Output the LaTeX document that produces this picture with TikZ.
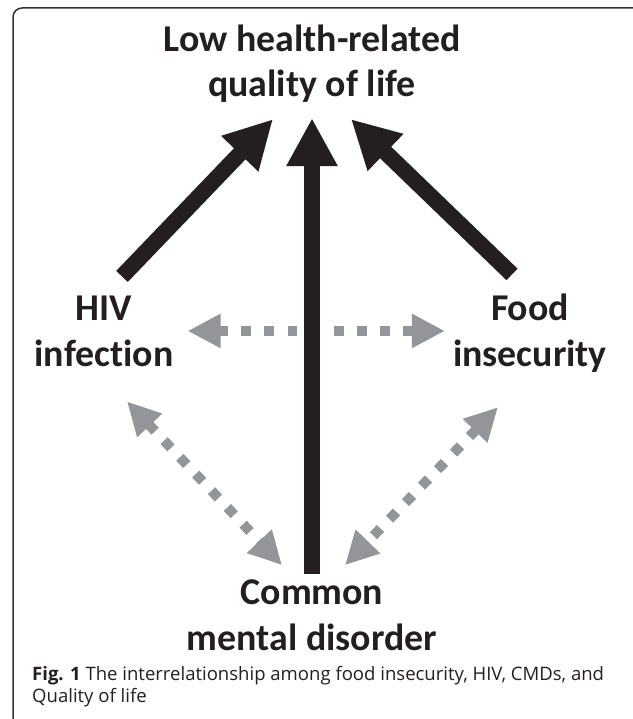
\documentclass[tikz,border=0pt]{standalone}
\usepackage{fontspec}
\setmainfont{Carlito}[Ligatures=NoCommon]
\newfontfamily\capfont{Open Sans}
\usetikzlibrary{arrows.meta}

\definecolor{inkblack}{HTML}{231F20}
\definecolor{linkgray}{HTML}{939598}

\tikzset{
  label/.style={font=\bfseries\fontsize{38}{46}\selectfont, text=inkblack, align=center, inner sep=0pt, anchor=base},
  bigarrow/.style={draw=inkblack, line width=16bp, -{Triangle[length=48bp, width=48bp]}, inkblack},
  dotarrow/.style={draw=linkgray, line width=10bp, dash pattern=on 10bp off 13bp, {Triangle[length=33bp, width=32bp]}-{Triangle[length=33bp, width=32bp]}, linkgray}
}

\begin{document}
\begin{tikzpicture}[x=1bp, y=-1bp]
  \useasboundingbox (0,0) rectangle (633,719);
  \clip (0,0) rectangle (633,719);

  % Draw the frame
  \draw[line width=1.5bp, draw=black!80, rounded corners=9bp] (13,740) -- (13,8) -- (660,8);

  % Place the four factors (anchor at the last line)
  \node[label] (qol) at (312,97) {Low health-related\\quality of life};
  \node[label] (hiv) at (104,366) {HIV\\infection};
  \node[label] (food) at (530,366) {Food\\insecurity};
  \node[label] (cmd) at (312,650) {Common\\mental disorder};

  % Draw the two-way links (gray)
  \draw[dotarrow, shorten <=14bp, shorten >=8bp] (hiv.east) -- (hiv.east -| food.west);
  \draw[dotarrow] ([shift={(23,35)}]hiv.south) -- ([shift={(-30,-14)}]cmd.north);
  \draw[dotarrow] ([shift={(-32,35)}]food.south) -- ([shift={(33,-14)}]cmd.north);

  % Draw the effects on quality of life (black)
  \draw[bigarrow] ([shift={(18,-19)}]hiv.north) -- ([shift={(-39,16)}]qol.south);
  \draw[bigarrow] ([shift={(-18,-19)}]food.north) -- ([shift={(39,16)}]qol.south);
  \draw[bigarrow, preaction={draw=white, line width=30bp, arrows=-}, shorten <=5bp, shorten >=15bp] (cmd.north) -- (qol.south);

  % Add the caption
  \node[font=\capfont\fontsize{18.6}{22}\selectfont, text=inkblack, align=left, inner sep=0pt, anchor=base west] (caption) at (32,702)
    {\textbf{Fig. 1} The interrelationship among food insecurity, HIV, CMDs, and\\Quality of life};
\end{tikzpicture}
\end{document}
